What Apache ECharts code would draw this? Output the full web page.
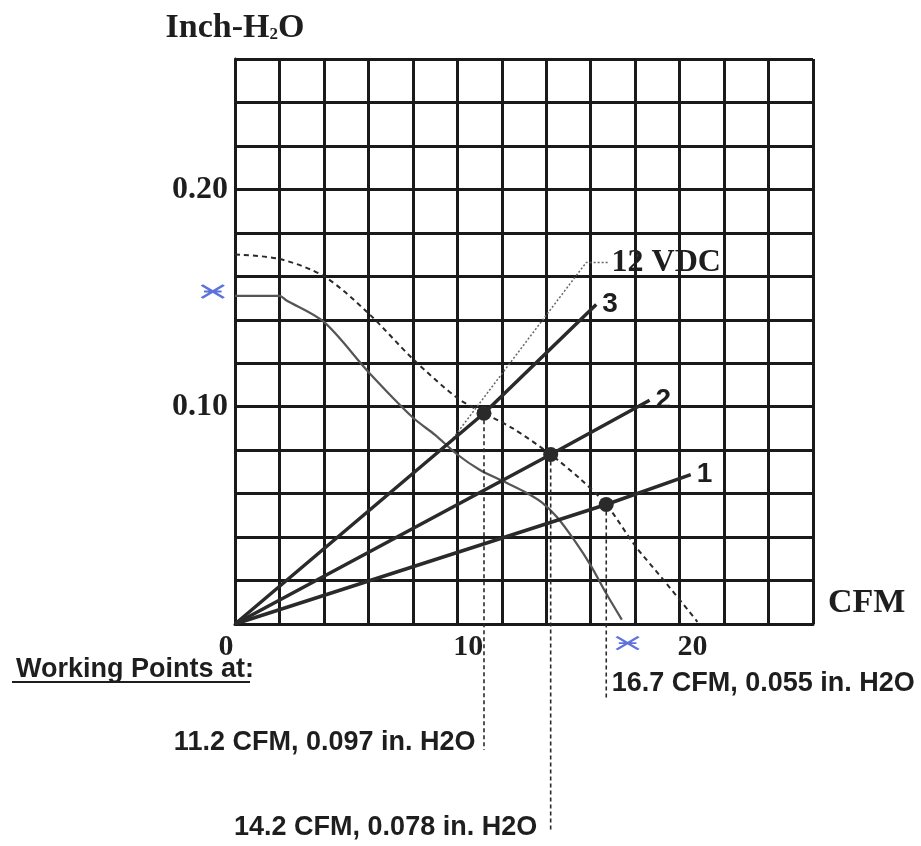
<!DOCTYPE html>
<html><head><meta charset="utf-8">
<script src="https://cdn.jsdelivr.net/npm/echarts@6/dist/echarts.min.js"></script>
<style>html,body{margin:0;padding:0;background:#fff}#c{width:921px;height:846px}</style>
</head><body><div id="c"></div>
<script>
// ---- data ----
const fanCurveDashed = [[0,0.170],[2.0,0.168],[4.0,0.160],[6.0,0.143],[8.0,0.122],[10.0,0.104],[11.2,0.097],[12.5,0.090],[14.2,0.078],[15.5,0.067],[16.7,0.055],[18.0,0.036],[19.3,0.020],[20.8,0.001]];
const fanCurveSolid = [[0,0.151],[2.0,0.151],[2.3,0.149],[4.0,0.139],[6.0,0.116],[8.0,0.095],[9.0,0.087],[10.0,0.078],[11.0,0.071],[12.0,0.066],[13.0,0.061],[13.8,0.056],[14.5,0.049],[15.3,0.038],[16.0,0.027],[16.7,0.014],[17.4,0.002]];
const system1 = [[0,0],[16.7,0.055],[20.5,0.0687]];
const system2 = [[0,0],[14.2,0.078],[18.65,0.103]];
const system3 = [[0,0],[11.2,0.097],[16.25,0.147]];
const systemNames = ['1','2','3'];
const workingPoints = [[11.2,0.097],[14.2,0.078],[16.7,0.055]];
const workingText = ['11.2 CFM, 0.097 in. H2O','14.2 CFM, 0.078 in. H2O','16.7 CFM, 0.055 in. H2O'];
const guideBottoms = [-0.058,-0.0955,-0.035];
const leader12V = [[9.7,0.084],[15.8,0.1664],[16.85,0.1664]];
const leaderText = '12 VDC';
const blueMarks = [[-1.0,0.153],[17.66,-0.0088]];
const xTickLabels = [0,10,20];
const yTickLabels = [0.10,0.20];
const yTitle = ['Inch-H','2','O'];
const xTitle = 'CFM';
const footTitle = 'Working Points at:';

// ---- styles ----
const INK = '#2a2a2a';
const TXT = '#1e1e1e';
const SERIF = '"Liberation Serif","DejaVu Serif",serif';
const SANS = '"Liberation Sans",Arial,sans-serif';

const chart = echarts.init(document.getElementById('c'), null, {renderer:'canvas'});

const labelStyles = [
  {position:'left', distance:8, offset:[0,-7]},
  {position:'left', distance:13, offset:[0,-4]},
  {position:'right', distance:5, offset:[0,-17]}
];

const series = [];
series.push({
  name:'fan-dashed', type:'line', data:fanCurveDashed, showSymbol:false, smooth:0.3,
  lineStyle:{color:INK, width:2, type:[5,4]}, z:3, silent:true
});
series.push({
  name:'fan-solid', type:'line', data:fanCurveSolid, showSymbol:false, smooth:0.3,
  lineStyle:{color:'#555', width:2.2}, z:3, silent:true
});
[system1, system2, system3].forEach((d,i)=>{
  series.push({
    name:'system'+systemNames[i], type:'line', data:d, showSymbol:false,
    lineStyle:{color:INK, width:3.5}, z:4, silent:true,
    endLabel:{show:true, formatter:systemNames[i], fontFamily:SANS, fontWeight:'bold', fontSize:28, color:TXT, distance:6}
  });
});
series.push({
  name:'leader', type:'line', data:leader12V, showSymbol:false,
  lineStyle:{color:'#666', width:1.5, type:[2,2]}, z:3, silent:true,
  endLabel:{show:true, formatter:leaderText, fontFamily:SERIF, fontWeight:'bold', fontSize:32, color:TXT, distance:2}
});
workingPoints.forEach((p,i)=>{
  series.push({
    name:'guide'+i, type:'line', data:[p,[p[0],guideBottoms[i]]], showSymbol:false, clip:false,
    lineStyle:{color:INK, width:1.6, type:[4,3]}, z:3, silent:true
  });
});
series.push({
  name:'working', type:'scatter', data:workingPoints, symbolSize:15,
  itemStyle:{color:INK, opacity:1}, z:6, silent:true
});
series.push({
  name:'workingLabels', type:'scatter', clip:false, symbolSize:1, silent:true,
  itemStyle:{color:'rgba(0,0,0,0)', opacity:1},
  data:workingPoints.map((p,i)=>({
    value:[p[0],guideBottoms[i]],
    label:Object.assign({show:true, formatter:workingText[i], fontFamily:SANS, fontWeight:'bold', fontSize:27, color:TXT}, labelStyles[i])
  }))
});
series.push({
  name:'handMarks', type:'scatter', clip:false, silent:true,
  data:blueMarks,
  symbol:'path://M0,2 L20,12 M0,12 L20,2 M2,7 L18,7',
  symbolSize:[22,13],
  itemStyle:{color:'rgba(0,0,0,0)', borderColor:'#4a63d8', borderWidth:2.5, opacity:0.9}, z:7
});

const option = {
  animation:false,
  backgroundColor:'#fff',
  grid:{left:235, right:108, top:59, bottom:222, containLabel:false},
  title:{text:footTitle, left:11, top:651, textStyle:{fontFamily:SANS, fontWeight:'bold', fontSize:27, color:TXT}},
  graphic:[{type:'line', shape:{x1:12, y1:682, x2:250, y2:682}, style:{stroke:TXT, lineWidth:2.2}}],
  xAxis:{
    type:'value', min:0, max:26, interval:2,
    axisLine:{show:true, lineStyle:{color:'#1a1a1a', width:3}},
    axisTick:{show:false},
    splitLine:{show:true, lineStyle:{color:'#1a1a1a', width:3}},
    axisLabel:{
      margin:8,
      formatter:v=>{
        const k = xTickLabels.indexOf(Math.round(v));
        if(k<0) return '';
        return '{l'+k+'|'+xTickLabels[k]+'}';
      },
      rich:{
        l0:{fontFamily:SERIF, fontWeight:'bold', fontSize:30, color:TXT, padding:[0,18,0,0]},
        l1:{fontFamily:SERIF, fontWeight:'bold', fontSize:30, color:TXT, padding:[0,0,0,22]},
        l2:{fontFamily:SERIF, fontWeight:'bold', fontSize:30, color:TXT, padding:[0,0,0,26]}
      }
    },
    name:xTitle, nameLocation:'end', nameGap:15,
    nameTextStyle:{fontFamily:SERIF, fontWeight:'bold', fontSize:34, color:TXT, align:'left', verticalAlign:'bottom', padding:[0,0,4,0]}
  },
  yAxis:{
    type:'value', min:0, max:0.26, interval:0.02,
    axisLine:{show:true, lineStyle:{color:'#1a1a1a', width:3}},
    axisTick:{show:false},
    splitLine:{show:true, lineStyle:{color:'#1a1a1a', width:3}},
    axisLabel:{
      margin:7, fontFamily:SERIF, fontWeight:'bold', fontSize:32, color:TXT,
      formatter:v=>{
        for(const t of yTickLabels){ if(Math.abs(v-t)<1e-6) return t.toFixed(2); }
        return '';
      }
    },
    name:'{a|'+yTitle[0]+'}{s|'+yTitle[1]+'}{a|'+yTitle[2]+'}', nameLocation:'end', nameGap:14,
    nameTextStyle:{
      rich:{
        a:{fontFamily:SERIF, fontWeight:'bold', fontSize:34, color:TXT},
        s:{fontFamily:SERIF, fontWeight:'bold', fontSize:17, color:TXT, verticalAlign:'bottom', padding:[0,0,2,0]}
      }
    }
  },
  series:series
};
chart.setOption(option);
</script>
</body></html>
